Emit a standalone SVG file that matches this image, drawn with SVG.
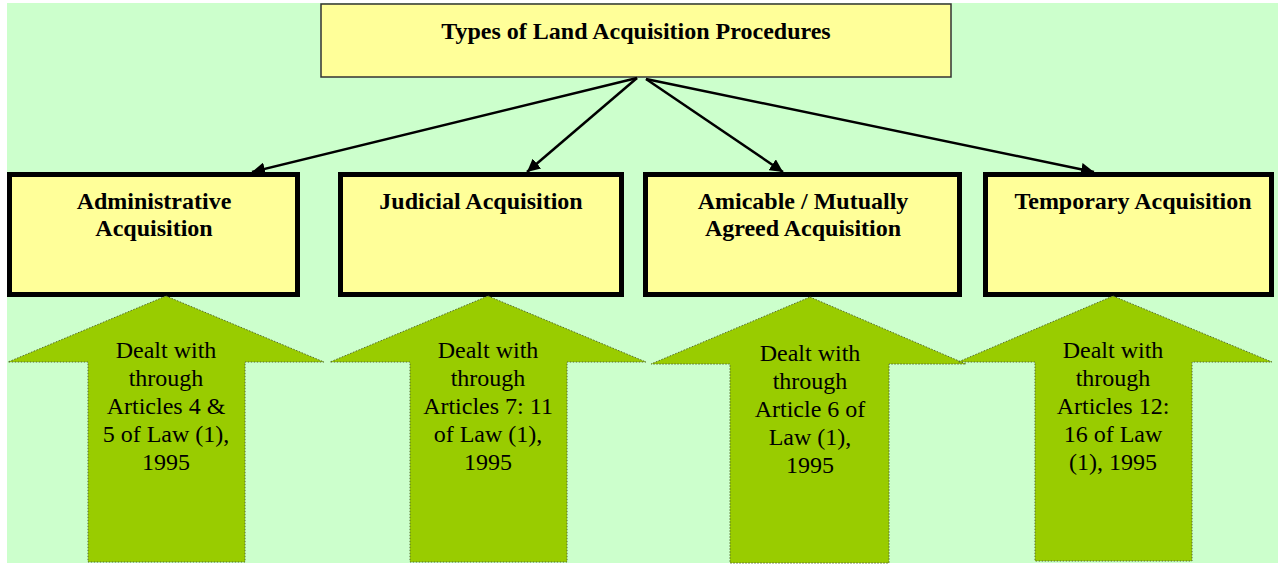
<svg xmlns="http://www.w3.org/2000/svg" width="1278" height="564" viewBox="0 0 1278 564">
<style>
.bg{fill:#CCFFCC}
.top{fill:#FFFF99;stroke:#333;stroke-width:1.5}
.box{fill:#FFFF99;stroke:#000;stroke-width:5}
.t{font-family:"Liberation Serif","Times New Roman",serif;font-weight:bold;font-size:24px;fill:#000;text-anchor:middle}
.a{font-family:"Liberation Serif","Times New Roman",serif;font-size:24px;fill:#000;text-anchor:middle}
.arr{fill:#99CC00;stroke:#556b2f;stroke-width:1;stroke-dasharray:1.5 1.5}
.con{stroke:#000;stroke-width:2.5;fill:none}
</style>
<defs>
<marker id="ah" viewBox="0 0 10 10" refX="10" refY="5" markerWidth="13" markerHeight="13" markerUnits="userSpaceOnUse" orient="auto">
<path d="M0,0 L10,5 L0,10 z" fill="#000"/>
</marker>
</defs>
<rect class="bg" x="7" y="3" width="1271" height="560"/>
<g id="root">
<rect class="top" x="321" y="4" width="630" height="73"/>
<text class="t" x="636" y="39">Types of Land Acquisition Procedures</text>
</g>
<g id="connectors">
<line class="con" x1="637" y1="78" x2="252" y2="172" marker-end="url(#ah)"/>
<line class="con" x1="637" y1="78" x2="527" y2="172" marker-end="url(#ah)"/>
<line class="con" x1="646" y1="79" x2="783" y2="172" marker-end="url(#ah)"/>
<line class="con" x1="646" y1="79" x2="1094" y2="172" marker-end="url(#ah)"/>
</g>
<g id="admin">
<rect class="box" x="9.5" y="174.5" width="288" height="120"/>
<text class="t" x="154" y="209">Administrative</text>
<text class="t" x="154" y="236">Acquisition</text>
</g>
<g id="judicial">
<rect class="box" x="340.5" y="174.5" width="281" height="120"/>
<text class="t" x="481" y="209">Judicial Acquisition</text>
</g>
<g id="amicable">
<rect class="box" x="645.5" y="174.5" width="314" height="120"/>
<text class="t" x="803" y="209">Amicable / Mutually</text>
<text class="t" x="803" y="236">Agreed Acquisition</text>
</g>
<g id="temporary">
<rect class="box" x="985.5" y="174.5" width="286" height="120"/>
<text class="t" x="1133" y="209">Temporary Acquisition</text>
</g>
<g id="arrow1">
<path class="arr" d="M166,296 L324,362 L245,362 L245,562 L88,562 L88,362 L8,362 Z"/>
<text class="a" x="166" y="358">Dealt with</text>
<text class="a" x="166" y="386">through</text>
<text class="a" x="166" y="414">Articles 4 &amp;</text>
<text class="a" x="166" y="442">5 of Law (1),</text>
<text class="a" x="166" y="470">1995</text>
</g>
<g id="arrow2">
<path class="arr" d="M488,296 L646,362 L567,362 L567,562 L410,562 L410,362 L330,362 Z"/>
<text class="a" x="488" y="358">Dealt with</text>
<text class="a" x="488" y="386">through</text>
<text class="a" x="488" y="414">Articles 7: 11</text>
<text class="a" x="488" y="442">of Law (1),</text>
<text class="a" x="488" y="470">1995</text>
</g>
<g id="arrow3">
<path class="arr" d="M810,297 L966,364 L889,364 L889,563 L730,563 L730,364 L651,364 Z"/>
<text class="a" x="810" y="361">Dealt with</text>
<text class="a" x="810" y="389">through</text>
<text class="a" x="810" y="417">Article 6 of</text>
<text class="a" x="810" y="445">Law (1),</text>
<text class="a" x="810" y="473">1995</text>
</g>
<g id="arrow4">
<path class="arr" d="M1113,296 L1272,362 L1192,362 L1192,561 L1035,561 L1035,362 L958,362 Z"/>
<text class="a" x="1113" y="358">Dealt with</text>
<text class="a" x="1113" y="386">through</text>
<text class="a" x="1113" y="414">Articles 12:</text>
<text class="a" x="1113" y="442">16 of Law</text>
<text class="a" x="1113" y="470">(1), 1995</text>
</g>
</svg>
